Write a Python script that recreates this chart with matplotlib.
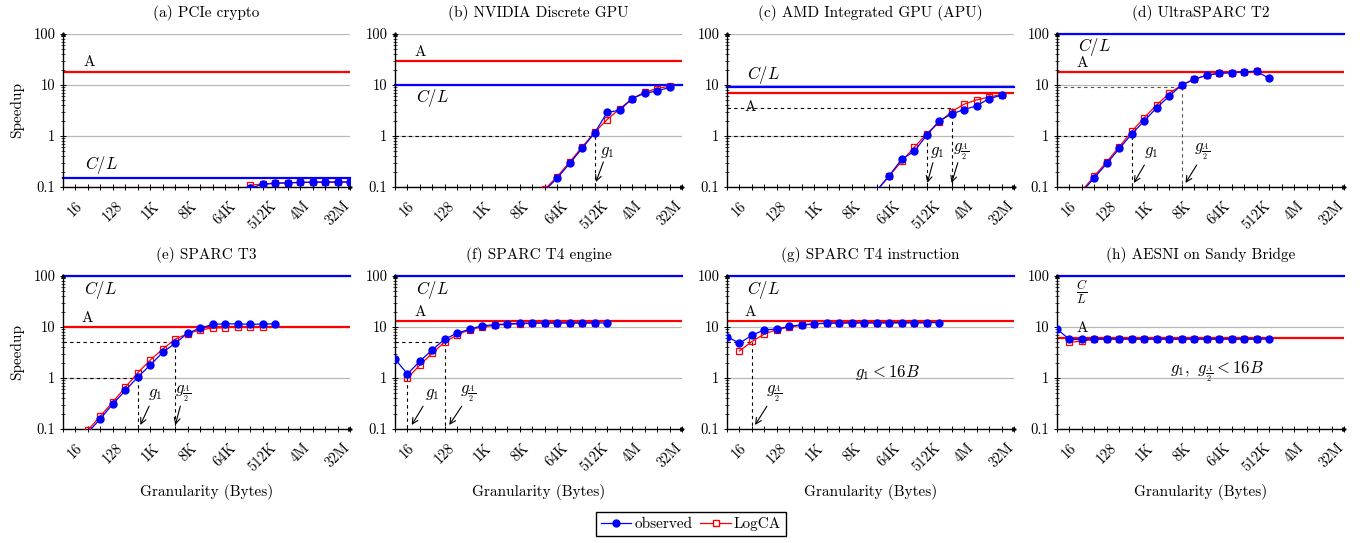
import numpy as np
import matplotlib.pyplot as plt
from matplotlib.ticker import FixedLocator, FixedFormatter, LogLocator, NullFormatter
from matplotlib.lines import Line2D

plt.rcParams['font.family'] = ['cmr10', 'DejaVu Serif']
plt.rcParams['mathtext.fontset'] = 'cm'
plt.rcParams['axes.formatter.use_mathtext'] = True
plt.rcParams['font.size'] = 10.5

# panel titles
titles = ['(a) PCIe crypto', '(b) NVIDIA Discrete GPU', '(c) AMD Integrated GPU (APU)',
          '(d) UltraSPARC T2', '(e) SPARC T3', '(f) SPARC T4 engine',
          '(g) SPARC T4 instruction', '(h) AESNI on Sandy Bridge']

# x tick labels (granularity = 2**exp bytes)
xtick_exp = [4, 7, 10, 13, 16, 19, 22, 25]
xtick_labels = ['16', '128', '1K', '8K', '64K', '512K', '4M', '32M']

# ceilings: A and C/L
peak_A = [18, 30, 7, 18, 10, 13.3, 13.3, 6]
peak_CL = [0.15, 10, 9, 100, 100, 100, 100, 100]

# observed / LogCA speedups (x given as log2 of bytes)
obs_a_x = [18, 19, 20, 21, 22, 23, 24, 25, 26]
obs_a = [0.095, 0.113, 0.118, 0.121, 0.123, 0.124, 0.125, 0.125, 0.125]
log_a_x = [18, 19, 20, 21, 22, 23, 24, 25, 26]
log_a = [0.108, 0.115, 0.119, 0.121, 0.123, 0.124, 0.125, 0.125, 0.125]

obs_b_x = [15, 16, 17, 18, 19, 20, 21, 22, 23, 24, 25]
obs_b = [0.085, 0.15, 0.29, 0.575, 1.15, 2.9, 3.2, 5.4, 6.9, 7.6, 9.0]
log_b_x = [15, 16, 17, 18, 19, 20, 21, 22, 23, 24, 25]
log_b = [0.09, 0.16, 0.31, 0.61, 1.18, 2.1, 3.4, 5.4, 7.2, 8.5, 9.5]

obs_c_x = [15, 16, 17, 18, 19, 20, 21, 22, 23, 24, 25]
obs_c = [0.085, 0.167, 0.35, 0.5, 1.03, 1.98, 2.7, 3.3, 3.9, 5.4, 6.3]
log_c_x = [15, 16, 17, 18, 19, 20, 21, 22, 23, 24, 25]
log_c = [0.085, 0.165, 0.32, 0.6, 1.1, 1.85, 3.0, 4.2, 5.1, 5.8, 6.5]

obs_d_x = [5, 6, 7, 8, 9, 10, 11, 12, 13, 14, 15, 16, 17, 18, 19, 20]
obs_d = [0.08, 0.153, 0.29, 0.57, 1.1, 2.0, 3.6, 6.1, 10, 13, 15.5, 17, 17.5, 18.2, 18.5, 13.5]
log_d_x = [5, 6, 7, 8, 9, 10, 11, 12, 13, 14, 15, 16, 17, 18, 19]
log_d = [0.085, 0.165, 0.315, 0.62, 1.24, 2.3, 4.1, 6.9, 10, 13, 15.5, 17, 17.5, 18.2, 18.5]

obs_e_x = [5, 6, 7, 8, 9, 10, 11, 12, 13, 14, 15, 16, 17, 18, 19, 20]
obs_e = [0.085, 0.16, 0.31, 0.57, 1.05, 1.8, 3.2, 4.8, 7.6, 9.5, 11.2, 11.6, 11.5, 11.3, 11.4, 11.6]
log_e_x = [5, 6, 7, 8, 9, 10, 11, 12, 13, 14, 15, 16, 17, 18, 19]
log_e = [0.095, 0.18, 0.34, 0.66, 1.27, 2.25, 3.7, 5.8, 7.4, 8.8, 9.5, 9.7, 10, 10, 10]

obs_f_x = [3, 4, 5, 6, 7, 8, 9, 10, 11, 12, 13, 14, 15, 16, 17, 18, 19, 20]
obs_f = [2.35, 1.2, 2.15, 3.6, 5.8, 7.6, 9.1, 10.6, 11.1, 11.5, 11.8, 12, 12, 12, 12, 12, 12, 12]
log_f_x = [4, 5, 6, 7, 8, 9, 10, 11, 12, 13, 14, 15, 16, 17, 18, 19]
log_f = [1.0, 1.8, 3.1, 5.1, 7.0, 8.9, 10, 10.8, 11.3, 11.6, 11.8, 11.9, 12, 12, 12, 12]

obs_g_x = [3, 4, 5, 6, 7, 8, 9, 10, 11, 12, 13, 14, 15, 16, 17, 18, 19, 20]
obs_g = [6.5, 4.8, 6.9, 8.8, 9.1, 10.3, 11.1, 11.5, 12, 12, 12.1, 12.1, 12.1, 12.2, 12.2, 12.2, 12.2, 12.2]
log_g_x = [4, 5, 6, 7, 8, 9, 10, 11, 12, 13, 14, 15, 16, 17, 18, 19]
log_g = [3.4, 5.2, 7.3, 8.9, 10, 10.8, 11.5, 11.8, 11.9, 12, 12, 12, 12, 12, 12, 12]

obs_h_x = [3, 4, 5, 6, 7, 8, 9, 10, 11, 12, 13, 14, 15, 16, 17, 18, 19, 20]
obs_h = [9.1, 5.7, 5.7, 5.8, 5.8, 5.8, 5.8, 5.8, 5.8, 5.8, 5.8, 5.8, 5.8, 5.8, 5.8, 5.8, 5.8, 5.8]
log_h_x = [4, 5, 6, 7, 8, 9, 10, 11, 12, 13, 14, 15, 16, 17, 18, 19]
log_h = [5.0, 5.3, 5.7, 5.8, 5.8, 5.8, 5.8, 5.8, 5.8, 5.8, 5.8, 5.8, 5.8, 5.8, 5.8, 5.8]

series = [(obs_a_x, obs_a, log_a_x, log_a), (obs_b_x, obs_b, log_b_x, log_b),
          (obs_c_x, obs_c, log_c_x, log_c), (obs_d_x, obs_d, log_d_x, log_d),
          (obs_e_x, obs_e, log_e_x, log_e), (obs_f_x, obs_f, log_f_x, log_f),
          (obs_g_x, obs_g, log_g_x, log_g), (obs_h_x, obs_h, log_h_x, log_h)]

# dashed guides: (label, g exponent, level, draw horizontal, color, label x, arrow tail, arrow head)
g1 = '$g_1$'
gA = r'$g_{\frac{A}{2}}$'
guides = [
    [],
    [(g1, 19, 1, True, 'k', 19.4, (19.7, 0.31), (19.1, 0.125))],
    [(g1, 19, 1, True, 'k', 19.3, (19.5, 0.3), (19.05, 0.12)),
     (gA, 21, 3.5, True, 'k', 21.15, (21.5, 0.3), (21.0, 0.12))],
    [(g1, 9, 1, True, 'k', 10.0, (10.0, 0.27), (9.16, 0.12)),
     (gA, 13, 9, True, '#555555', 14.0, (14.2, 0.27), (13.3, 0.12))],
    [(g1, 9, 1, True, 'k', 9.85, (9.9, 0.28), (9.2, 0.12)),
     (gA, 12, 5, True, 'k', 12.0, (12.4, 0.28), (12.0, 0.12))],
    [(g1, 4, 1, False, 'k', 5.4, (5.25, 0.28), (4.34, 0.12)),
     (gA, 7, 5, True, 'k', 8.2, (8.35, 0.28), (7.35, 0.12))],
    [(gA, 5, 5, True, 'k', 6.1, (6.2, 0.28), (5.25, 0.12))],
    [],
]
a_pos = [(5.1, 28), (5.0, 44.7), (4.9, 3.7), (5.0, 27), (4.95, 14.8), (5.0, 19.5), (4.9, 19.5), (5.0, 9.4)]
cl_pos = [(6.1, 0.27), (6.0, 5.56), (5.9, 15.8), (6.0, 56), (6.0, 52), (6.0, 52), (5.9, 52), (5.0, 48)]
notes = {6: '$g_1 < 16B$', 7: r'$g_1,\ g_{\frac{A}{2}} < 16B$'}

fig = plt.figure(figsize=(13.67, 5.43), dpi=100)
W, H = 1367., 543.
lefts = [63, 395, 727, 1057]
tops = [34, 276]
aw, ah = 287, 153

for i in range(8):
    r, c = divmod(i, 4)
    ax = fig.add_axes([lefts[c] / W, 1 - (tops[r] + ah) / H, aw / W, ah / H])
    ax.set_xscale('log', base=2)
    ax.set_yscale('log')
    ax.set_xlim(2 ** 3, 2 ** 26)
    ax.set_ylim(0.1, 100)

    # ceilings
    ax.axhline(peak_CL[i], color='#0000ff', lw=1.6, zorder=2, clip_on=False)
    ax.axhline(peak_A[i], color='#ff0000', lw=1.6, zorder=2)

    ox, oy, lx, ly = series[i]
    ax.plot(2.0 ** np.array(lx), ly, color='red', lw=0.9, marker='s', ms=5,
            mfc='none', mec='red', mew=0.9, zorder=4)
    ax.plot(2.0 ** np.array(ox), oy, color='#0000ff', lw=0.9, marker='o', ms=5,
            mfc='#0000ff', mec='#0000ff', zorder=5)

    for lab, g, lev, horiz, col, lxp, tail, head in guides[i]:
        if horiz:
            ax.plot([2 ** 3, 2 ** g], [lev, lev], ls=(0, (3, 3)), color=col, lw=0.8, zorder=3)
        ax.plot([2 ** g, 2 ** g], [lev, 0.1], ls=(0, (3, 3)), color=col, lw=0.8, zorder=3)
        ax.text(2 ** lxp, 0.48, lab, fontsize=12, ha='left', va='center')
        ax.annotate('', xy=(2 ** head[0], head[1]), xytext=(2 ** tail[0], tail[1]),
                    arrowprops=dict(arrowstyle='->', lw=0.8, color='k',
                                    shrinkA=0, shrinkB=0))

    ax.text(2 ** a_pos[i][0], a_pos[i][1], 'A', fontsize=11, ha='center', va='center')
    cl_txt = r'$\frac{C}{L}$' if i == 7 else '$C/L$'
    ax.text(2 ** cl_pos[i][0], cl_pos[i][1], cl_txt, fontsize=12 if i != 7 else 13,
            ha='center', va='center')
    if i in notes:
        ax.text(2 ** 15.85, 1.3, notes[i], fontsize=12, ha='center', va='center')

    # axes style
    for s in ['top', 'right']:
        ax.spines[s].set_visible(False)
    ax.spines['left'].set_linewidth(1.0)
    ax.spines['bottom'].set_linewidth(1.0)
    ax.plot(1, 0, '>k', ms=2.5, transform=ax.transAxes, clip_on=False)
    ax.plot(0, 1, '^k', ms=2.5, transform=ax.transAxes, clip_on=False)

    ax.xaxis.set_major_locator(FixedLocator([2.0 ** e for e in xtick_exp]))
    ax.xaxis.set_major_formatter(FixedFormatter(xtick_labels))
    ax.xaxis.set_minor_locator(FixedLocator([2.0 ** e for e in range(3, 27)]))
    ax.xaxis.set_minor_formatter(NullFormatter())
    ax.tick_params(axis='x', which='both', direction='inout', length=5, width=0.7, pad=6)
    for t in ax.get_xticklabels():
        t.set_rotation(45)
        t.set_ha('center')
        t.set_va('top')

    ax.yaxis.set_major_locator(FixedLocator([0.1, 1, 10, 100]))
    ax.yaxis.set_major_formatter(FixedFormatter(['0.1', '1', '10', '100']))
    ax.yaxis.set_minor_locator(LogLocator(base=10, subs=np.arange(2, 10)))
    ax.yaxis.set_minor_formatter(NullFormatter())
    ax.tick_params(axis='y', which='major', direction='inout', length=5, width=0.7, pad=3)
    ax.tick_params(axis='y', which='minor', direction='inout', length=3, width=0.5)
    ax.yaxis.grid(True, which='major', color='#b8b8b8', lw=0.9)
    ax.set_axisbelow(True)

    ax.set_title(titles[i], fontsize=11, pad=12)
    if c == 0:
        ax.set_ylabel('Speedup', fontsize=11, labelpad=7)
    if r == 1:
        ax.set_xlabel('Granularity (Bytes)', fontsize=11, labelpad=7)

handles = [Line2D([], [], color='#0000ff', lw=0.9, marker='o', ms=5, mfc='#0000ff'),
           Line2D([], [], color='red', lw=0.9, marker='s', ms=5, mfc='white', mec='red')]
fig.legend(handles, ['observed', 'LogCA'], loc='center', ncol=2,
           bbox_to_anchor=(691 / W, 1 - 524 / H), fancybox=False, edgecolor='black',
           framealpha=1, fontsize=11, handlelength=2.0, handletextpad=0.2,
           columnspacing=0.5, borderpad=0.3)

fig.savefig('out.png', dpi=100)
